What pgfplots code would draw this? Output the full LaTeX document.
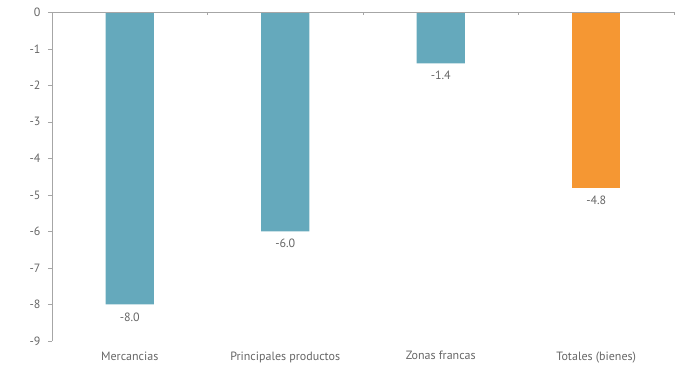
\documentclass[border=0pt]{standalone}
\usepackage{fontspec}
\setmainfont{PT Sans}
\usepackage{pgfplots}
\pgfplotsset{compat=1.18}
\definecolor{teal1}{HTML}{65A9BC}
\definecolor{orange1}{HTML}{F59733}
\definecolor{axgray}{HTML}{A6A6A6}
\definecolor{txtgray}{HTML}{666666}
\begin{document}
\begin{tikzpicture}
\begin{axis}[
  name=ax,
  scale only axis,
  width=622bp, height=328.7bp,
  xmin=-0.5, xmax=3.5,
  ymin=-9, ymax=0,
  axis lines*=left,
  x axis line style={draw=none},
  y axis line style={draw=axgray},
  xtick={0,1,2,3},
  xticklabels={Mercancias,Principales productos,Zonas francas,Totales (bienes)},
  x tick style={draw=none},
  xticklabel style={text=txtgray, font=\fontsize{12bp}{14bp}\selectfont, yshift=-3bp},
  ytick={-9,-8,-7,-6,-5,-4,-3,-2,-1,0},
  yticklabels={-9,-8,-7,-6,-5,-4,-3,-2,-1,0},
  ytick pos=left,
  tick align=outside,
  major tick length=4bp,
  y tick style={draw=axgray},
  yticklabel style={text=txtgray, font=\fontsize{12bp}{14bp}\selectfont, xshift=-4bp},
  ybar, bar width=0.31, bar shift=0pt,
  point meta=explicit symbolic,
  nodes near coords,
  nodes near coords style={text=txtgray, font=\fontsize{12bp}{14bp}\selectfont, anchor=north, yshift=-4.5bp},
  clip=false,
]
\addplot[fill=teal1, draw=none] coordinates {(0,-8.0) [-8.0] (1,-6.0) [-6.0] (2,-1.4) [-1.4]};
\addplot[fill=orange1, draw=none] coordinates {(3,-4.8) [-4.8]};
\draw[axgray, line width=0.8pt] (axis cs:-0.5,0) -- (axis cs:3.5,0);
\draw[axgray, line width=0.8pt] (axis cs:0.5,0) -- ([yshift=-3bp]axis cs:0.5,0);
\draw[axgray, line width=0.8pt] (axis cs:1.5,0) -- ([yshift=-3bp]axis cs:1.5,0);
\draw[axgray, line width=0.8pt] (axis cs:2.5,0) -- ([yshift=-3bp]axis cs:2.5,0);
\draw[axgray, line width=0.8pt] (axis cs:3.5,0) -- ([yshift=-3bp]axis cs:3.5,0);
\end{axis}
\pgfresetboundingbox
\path ([xshift=-52bp,yshift=-27bp]ax.south west) rectangle ([xshift=2bp,yshift=12.3bp]ax.north east);
\end{tikzpicture}
\end{document}
